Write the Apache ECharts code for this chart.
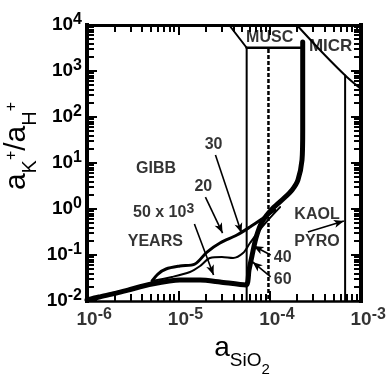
<!DOCTYPE html>
<html>
<head>
<meta charset="utf-8">
<script src="https://cdn.jsdelivr.net/npm/echarts@6/dist/echarts.min.js"></script>
<style>
  html, body { margin: 0; padding: 0; background: #fff; }
  #chart { width: 391px; height: 376px; }
</style>
</head>
<body>
<div id="chart"></div>
<script>
// Activity diagram: log(aK+/aH+) against log(aSiO2), with mineral stability
// fields and the solution paths computed for several elapsed times.

const FONT = 'Liberation Sans';

// axis decades
const xDecades = [1e-6, 1e-5, 1e-4, 1e-3];
const yDecades = [1e-2, 1e-1, 1, 10, 100, 1000, 1e4];

// stability field boundaries, [aSiO2, aK+/aH+]
const gibbMuscBoundary = [[3.6e-5, 1e4], [5.6e-5, 3200]];
const muscKaolBoundary = [[5.6e-5, 3200], [2.28e-4, 3200]];
const gibbKaolBoundary = [[5.6e-5, 3200], [5.6e-5, 1e-2]];
const micrBoundary = [[1.98e-4, 1e4], [3.82e-4, 2460], [7.0e-4, 740], [1e-3, 407]];
const kaolPyroBoundary = [[6.7e-4, 800], [6.7e-4, 1e-2]];
const quartzSaturation = [[9.7e-5, 3000], [9.7e-5, 1e-2]];

// solution paths
const pathMain = [
  [1e-6, 0.0105], [1.35e-6, 0.0122], [2.03e-6, 0.0146], [2.81e-6, 0.0173],
  [5.15e-6, 0.0234], [1.04e-5, 0.0286], [1.73e-5, 0.0286], [2.86e-5, 0.0259],
  [5.5e-5, 0.0223], [5.94e-5, 0.047], [6.4e-5, 0.095], [7.08e-5, 0.234],
  [8.24e-5, 0.52], [1.09e-4, 1.05], [1.44e-4, 1.73], [1.76e-4, 2.59],
  [2.04e-4, 4.27], [2.26e-4, 11.6], [2.3e-4, 52], [2.3e-4, 386], [2.3e-4, 4270]
];
const pathUpper = [
  [5.15e-6, 0.0272], [5.98e-6, 0.0386], [7.33e-6, 0.0497], [1.04e-5, 0.0577],
  [1.52e-5, 0.0637], [2.06e-5, 0.116], [2.86e-5, 0.182], [4.38e-5, 0.272],
  [6.09e-5, 0.406], [8.24e-5, 0.607], [1.14e-4, 0.95]
];
const pathLower = [
  [5.15e-6, 0.0272], [8.53e-6, 0.0333], [1.34e-5, 0.0427], [1.73e-5, 0.0577],
  [2.22e-5, 0.086], [3.0e-5, 0.0905], [3.97e-5, 0.086], [5.11e-5, 0.110],
  [6.09e-5, 0.182], [7.45e-5, 0.316], [9.6e-5, 0.577], [1.30e-4, 1.10]
];

// pointer arrows, [from, to]
const arrows = [
  [[2.55e-5, 14.9], [4.92e-5, 0.30]],
  [[1.98e-5, 1.82], [3.05e-5, 0.30]],
  [[1.50e-5, 0.472], [2.43e-5, 0.0367]],
  [[1.026e-4, 0.1], [6.67e-5, 0.157]],
  [[1.026e-4, 0.0333], [6.5e-5, 0.0705]],
  [[2.62e-4, 0.316], [6.5e-4, 0.548]]
];

// text annotations, [text, aSiO2, aK+/aH+]
const annotations = [
  ['GIBB', 5.7e-6, 7.4],
  ['30', 2.43e-5, 24.6],
  ['20', 1.88e-5, 3.0],
  ['{t|50 x 10}{u|3}', 6.9e-6, 0.82],
  ['YEARS', 5.6e-6, 0.192],
  ['KAOL', 3.3e-4, 0.74],
  ['PYRO', 3.3e-4, 0.192],
  ['40', 1.39e-4, 0.086],
  ['60', 1.39e-4, 0.0286],
  ['MUSC', 1.0e-4, 5200]
];
const clippedAnnotations = [['MICR', 2.69e-4, 3490]];

const X_MIN = xDecades[0], X_MAX = xDecades[xDecades.length - 1];
const Y_MIN = yDecades[0], Y_MAX = yDecades[yDecades.length - 1];

function lineSeries(data, width, extra) {
  return Object.assign({
    type: 'line',
    data: data,
    showSymbol: false,
    symbol: 'none',
    silent: true,
    clip: true,
    lineStyle: { color: '#000', width: width, cap: 'round', join: 'round' }
  }, extra || {});
}

const expLabel = v => String(Math.round(Math.log10(v)));

const tickRich = {
  b: { fontFamily: FONT, fontWeight: 'bold', fontSize: 19, lineHeight: 26, color: '#000' },
  e: { fontFamily: FONT, fontWeight: 'bold', fontSize: 16, lineHeight: 16, verticalAlign: 'top', color: '#000' }
};

// the four frame sides: heavy line, inward decade ticks plus 2..9 minor ticks
function frameAxis(kind, position, lineWidth, extra) {
  const isX = kind === 'x';
  return Object.assign({
    type: 'log', logBase: 10,
    min: isX ? X_MIN : Y_MIN,
    max: isX ? X_MAX : Y_MAX,
    splitNumber: isX ? xDecades.length - 1 : yDecades.length - 1,
    position: position,
    z: 4,
    axisLine: { show: true, onZero: false, lineStyle: { color: '#000', width: lineWidth, cap: 'square' } },
    axisTick: { show: true, inside: true, length: 10, lineStyle: { color: '#000', width: 2 } },
    minorTick: { show: true, splitNumber: 9, length: 7, lineStyle: { color: '#000', width: 2 } },
    splitLine: { show: false },
    minorSplitLine: { show: false },
    axisLabel: { show: false }
  }, extra || {});
}

const chart = echarts.init(document.getElementById('chart'), null, { renderer: 'canvas' });

chart.setOption({
  animation: false,
  backgroundColor: '#fff',
  grid: {
    left: 87, right: 30, top: 25, bottom: 75,
    show: false, containLabel: false, outerBoundsMode: 'none'
  },
  xAxis: [
    frameAxis('x', 'bottom', 2.5, {
      name: '{a|a}{s|SiO}{t|2}',
      nameLocation: 'middle',
      nameGap: 48,
      nameMoveOverlap: false,
      nameTextStyle: {
        padding: [0, 0, 0, 36],
        rich: {
          a: { fontFamily: FONT, fontSize: 28, lineHeight: 28, verticalAlign: 'bottom', padding: [0, 0, 15, 0], color: '#000' },
          s: { fontFamily: FONT, fontSize: 19, lineHeight: 19, verticalAlign: 'bottom', padding: [0, 0, 7, 0], color: '#000' },
          t: { fontFamily: FONT, fontSize: 15, lineHeight: 15, verticalAlign: 'bottom', color: '#000' }
        }
      }
    }),
    frameAxis('x', 'top', 3)
  ],
  yAxis: [
    frameAxis('y', 'left', 4, {
      axisLabel: {
        show: true,
        margin: 5,
        formatter: v => '{b|10}{e|' + expLabel(v) + '}',
        rich: tickRich
      },
      name: '{a|a}{s|K}{p|+}{a|/a}{s|H}{p|+}',
      nameLocation: 'middle',
      nameRotate: 90,
      nameGap: 43,
      nameMoveOverlap: false,
      nameTextStyle: {
        padding: [0, 0, 0, 34],
        rich: {
          a: { fontFamily: FONT, fontSize: 30, lineHeight: 30, verticalAlign: 'bottom', padding: [0, 0, 12, 0], color: '#000' },
          s: { fontFamily: FONT, fontSize: 20, lineHeight: 20, verticalAlign: 'bottom', padding: [0, 0, 4, 0], color: '#000' },
          p: { fontFamily: FONT, fontSize: 16, lineHeight: 16, verticalAlign: 'bottom', padding: [0, 0, 24, 0], color: '#000' }
        }
      }
    }),
    frameAxis('y', 'right', 4)
  ],
  series: [
    // decade labels under the bottom axis: the "10" sits centred on its tick
    {
      type: 'scatter',
      symbolSize: 0,
      silent: true,
      clip: false,
      data: xDecades.map(v => [v, Y_MIN]),
      label: {
        show: true,
        position: 'inside',
        align: 'left',
        verticalAlign: 'top',
        offset: [-10.5, 6],
        formatter: p => '{b|10}{e|' + expLabel(p.value[0]) + '}',
        rich: tickRich
      }
    },

    lineSeries(gibbMuscBoundary, 2),
    lineSeries(muscKaolBoundary, 2.5),
    lineSeries(gibbKaolBoundary, 2),
    lineSeries(micrBoundary, 2, { smooth: 0.3 }),
    lineSeries(kaolPyroBoundary, 2),
    lineSeries(quartzSaturation, 2.5, {
      lineStyle: { color: '#000', width: 2.5, type: [4, 2] }
    }),

    lineSeries(pathMain, 5, { smooth: 0.25 }),
    lineSeries(pathUpper, 3, { smooth: 0.3 }),
    lineSeries(pathLower, 2, { smooth: 0.3 }),

    {
      type: 'line',
      data: [],
      silent: true,
      markLine: {
        silent: true,
        animation: false,
        symbol: ['none', 'arrow'],
        symbolSize: [6, 10],
        label: { show: false },
        lineStyle: { color: '#000', width: 1.6, type: 'solid' },
        data: arrows.map(a => [{ coord: a[0] }, { coord: a[1] }])
      }
    },

    {
      type: 'scatter',
      symbolSize: 0,
      silent: true,
      z: 10,
      data: annotations.map(a => ({ value: [a[1], a[2]], label: { formatter: a[0] } })),
      label: {
        show: true,
        position: 'inside',
        color: '#000',
        fontFamily: FONT,
        fontWeight: 'bold',
        fontSize: 16,
        rich: {
          t: { fontFamily: FONT, fontWeight: 'bold', fontSize: 16, lineHeight: 22, color: '#000' },
          u: { fontFamily: FONT, fontWeight: 'bold', fontSize: 14, lineHeight: 12, verticalAlign: 'top', color: '#000' }
        }
      }
    },
    {
      type: 'scatter',
      symbolSize: 0,
      silent: true,
      z: 10,
      data: clippedAnnotations.map(a => ({ value: [a[1], a[2]], label: { formatter: a[0] } })),
      label: {
        show: true,
        position: 'right',
        distance: 0,
        color: '#000',
        fontFamily: FONT,
        fontWeight: 'bold',
        fontSize: 17
      }
    }
  ]
});
</script>
</body>
</html>
